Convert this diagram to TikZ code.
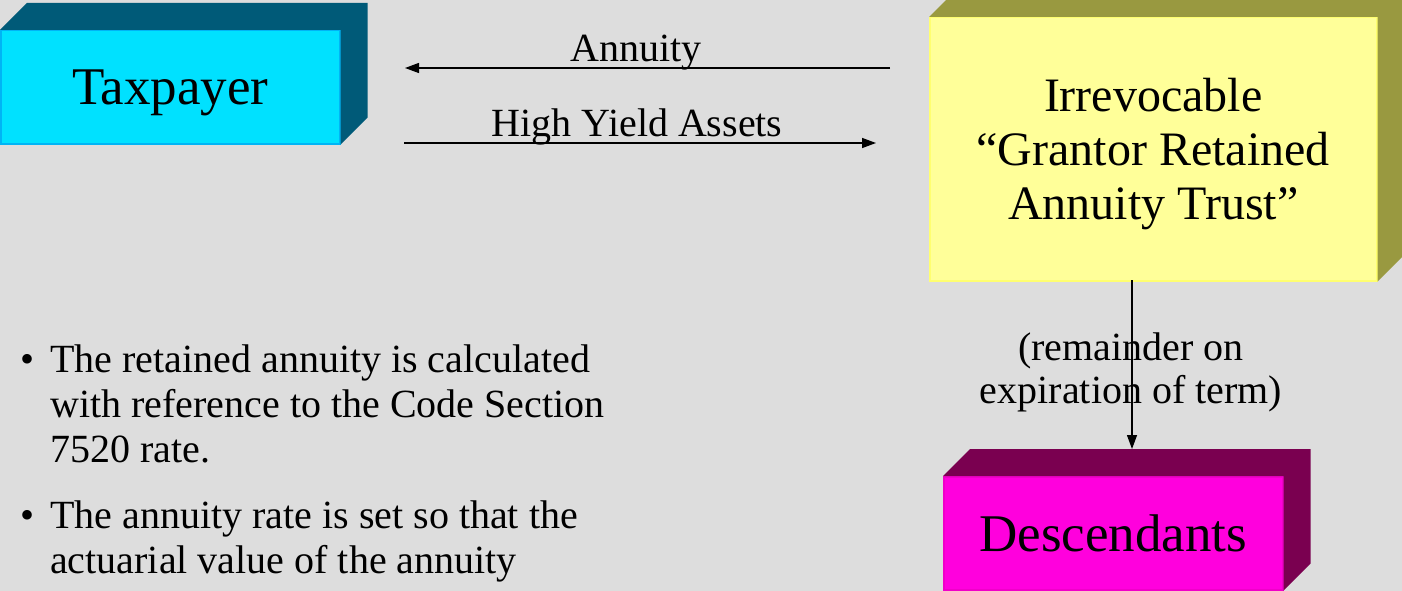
\documentclass[tikz,border=0pt]{standalone}
\usepackage{fontspec}
\setmainfont{Liberation Serif}
\usetikzlibrary{arrows.meta}
\definecolor{bggray}{HTML}{DDDDDD}
\definecolor{taxfront}{HTML}{00E1FF}
\definecolor{taxedge}{HTML}{00B4F5}
\definecolor{taxside}{HTML}{005A78}
\definecolor{trustfront}{HTML}{FFFF99}
\definecolor{trustedge}{HTML}{FFFF70}
\definecolor{trustside}{HTML}{999940}
\definecolor{heirfront}{HTML}{FF00DD}
\definecolor{heiredge}{HTML}{F000C8}
\definecolor{heirside}{HTML}{7A0050}
\tikzset{
  front/.style={draw, line width=1.5pt, inner sep=0pt, text depth=0pt, anchor=north west, align=center},
  flow/.style={-{Triangle[length=14pt,width=10pt]}, line width=1.3pt},
  lab/.style={font=\fontsize{40}{45}\selectfont, inner sep=0pt}
}
\begin{document}
\begin{tikzpicture}[x=1pt, y=-1pt]
\clip (0,0) rectangle (1402,591);
\fill[bggray] (0,0) rectangle (1402,591);
% boxes
\node[front, fill=taxfront, draw=taxedge, minimum width=339pt, minimum height=113pt,
  font=\fontsize{53}{60}\selectfont] (tax) at (0,30) {Taxpayer};
\node[front, fill=trustfront, draw=trustedge, minimum width=447pt, minimum height=263pt,
  font=\fontsize{48}{54}\selectfont] (trust) at (929,17) {Irrevocable\\ ``Grantor Retained\\Annuity Trust''};
\node[front, fill=heirfront, draw=heiredge, minimum width=339pt, minimum height=113pt,
  font=\fontsize{53}{60}\selectfont] (heirs) at (943,476) {Descendants};
\foreach \n/\c in {tax/taxside, trust/trustside, heirs/heirside}
{
  \fill[\c] (\n.north west) -- ++(27,-27) -- ([shift={(27,-27)}]\n.north east)
    -- ([shift={(27,-27)}]\n.south east) -- (\n.south east) -- (\n.north east) -- cycle;
}
% flows between the boxes
\coordinate (annFrom) at (890,68);
\coordinate (annTo) at (405,68);
\coordinate (hyaFrom) at (404,143);
\coordinate (hyaTo) at (876,143);
\coordinate (remTop) at (1132,280);
\coordinate (heirsBack) at ([yshift=27pt]heirs.north);
\draw[flow] (annFrom) -- (annTo);
\draw[flow] (hyaFrom) -- (hyaTo);
\draw[flow] (remTop) -- (remTop |- heirsBack);
\node[lab, anchor=base] (annLab) at (636,62) {Annuity};
\node[lab, anchor=base] (hyaLab) at (637,136) {High Yield Assets};
\node[lab, anchor=base, align=center, font=\fontsize{40}{43}\selectfont] (remLab) at (1131,403) {(remainder on\\expiration of term)};
% bullets
\node[lab, anchor=base] (bul1) at (28,372) {\textbullet};
\node[lab, anchor=base west, align=left] (txt1) at (50,462) {The retained annuity is calculated\\with reference to the Code Section\\7520 rate.};
\node[lab, anchor=base] (bul2) at (28,528) {\textbullet};
\node[lab, anchor=base west, align=left] (txt2) at (50,573) {The annuity rate is set so that the\\actuarial value of the annuity};
\end{tikzpicture}
\end{document}
